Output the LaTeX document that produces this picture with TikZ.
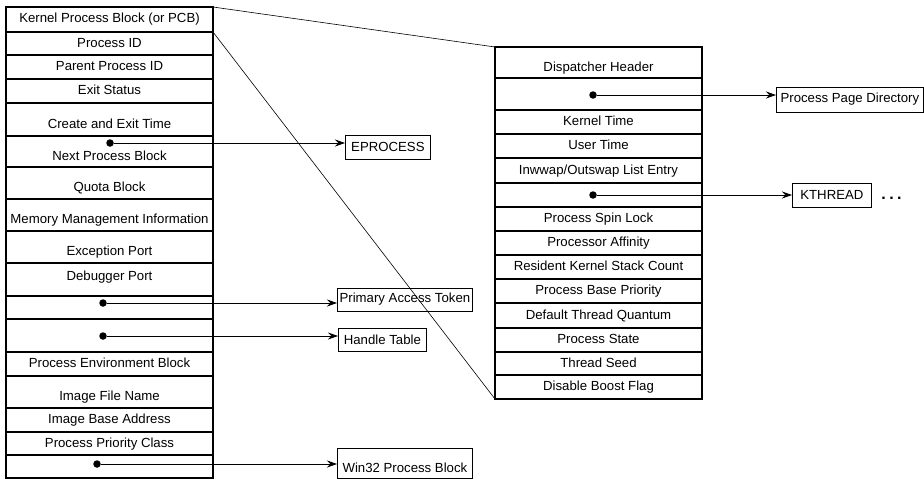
\documentclass[tikz,border=0pt]{standalone}
\usepackage{fontspec}
\setmainfont{Liberation Sans}
\usetikzlibrary{positioning,arrows.meta}

\begin{document}
\begin{tikzpicture}[x=1pt,y=-1pt,
  every node/.style={font=\fontsize{13.2}{15}\selectfont},
  field/.style={rectangle,draw,line width=1.2pt,minimum width=207pt,
               inner sep=0pt,outer sep=0pt,text height=10pt,text depth=3pt},
  lowtext/.style={text height=20pt},
  hightext/.style={text depth=9pt},
  ptr/.style={circle,fill,inner sep=0pt,minimum size=7.5pt},
  refbox/.style={rectangle,draw,line width=0.8pt,inner sep=0pt,
               minimum height=24pt,anchor=west},
  arr/.style ={-{Stealth[length=10pt,width=7pt]},line width=0.8pt},
  link/.style={line width=0.6pt},
]
\useasboundingbox (0,0) rectangle (924,479);

% EPROCESS fields
\node[field,minimum height=25pt,anchor=north west] (pcb) at (6,7) {Kernel Process Block (or PCB)};
\node[field,minimum height=23pt,below=0pt of pcb] (pid) {Process ID};
\node[field,minimum height=24pt,below=0pt of pid] (ppid) {Parent Process ID};
\node[field,minimum height=24pt,below=0pt of ppid] (exit) {Exit Status};
\node[field,minimum height=33pt,lowtext,below=0pt of exit] (times) {Create and Exit Time};
\node[field,minimum height=31pt,lowtext,below=0pt of times] (next) {Next Process Block};
\node[field,minimum height=32pt,lowtext,below=0pt of next] (quota) {Quota Block};
\node[field,minimum height=32pt,lowtext,below=0pt of quota] (mm) {Memory Management Information};
\node[field,minimum height=32pt,lowtext,below=0pt of mm] (exc) {Exception Port};
\node[field,minimum height=33pt,hightext,below=0pt of exc] (dbg) {Debugger Port};
\node[field,minimum height=23pt,below=0pt of dbg] (token) {};
\node[field,minimum height=33pt,below=0pt of token] (handles) {};
\node[field,minimum height=24pt,below=0pt of handles] (peb) {Process Environment Block};
\node[field,minimum height=32pt,lowtext,below=0pt of peb] (img) {Image File Name};
\node[field,minimum height=24pt,below=0pt of img] (base) {Image Base Address};
\node[field,minimum height=23pt,below=0pt of base] (prio) {Process Priority Class};
\node[field,minimum height=23pt,below=0pt of prio] (win32) {};

% KPROCESS fields
\node[field,minimum height=31pt,lowtext,anchor=north west] (disp) at (495,47) {Dispatcher Header};
\node[field,minimum height=32pt,below=0pt of disp] (pgdir) {};
\node[field,minimum height=24pt,below=0pt of pgdir] (ktime) {Kernel Time};
\node[field,minimum height=24pt,below=0pt of ktime] (utime) {User Time};
\node[field,minimum height=25pt,below=0pt of utime] (swap) {Inwwap/Outswap List Entry};
\node[field,minimum height=24pt,below=0pt of swap] (thr) {};
\node[field,minimum height=24pt,below=0pt of thr] (spin) {Process Spin Lock};
\node[field,minimum height=24pt,below=0pt of spin] (aff) {Processor Affinity};
\node[field,minimum height=24pt,below=0pt of aff] (stack) {Resident Kernel Stack Count};
\node[field,minimum height=24pt,below=0pt of stack] (bprio) {Process Base Priority};
\node[field,minimum height=25pt,below=0pt of bprio] (quant) {Default Thread Quantum};
\node[field,minimum height=24pt,below=0pt of quant] (state) {Process State};
\node[field,minimum height=23pt,below=0pt of state] (seed) {Thread Seed};
\node[field,minimum height=24pt,below=0pt of seed] (boost) {Disable Boost Flag};

% pointers
\node[ptr] (dnext) at (110,143) {};
\node[ptr] (dtoken) at (103,303) {};
\node[ptr] (dhandles) at (103,336) {};
\node[ptr] (dwin32) at (97,464) {};
\node[ptr] (dpgdir) at (593,95) {};
\node[ptr] (dthr) at (593,195) {};

% targets
\node[refbox,minimum width=85pt] (eproc) at (345,147) {EPROCESS};
\node[refbox,minimum width=135pt,minimum height=23pt] (pat) at (337,299.5) {Primary Access Token};
\node[refbox,minimum width=88pt,minimum height=23pt] (htab) at (338,339.5) {Handle Table};
\node[refbox,minimum width=135pt,minimum height=30pt,text height=22pt,text depth=3pt] (w32) at (337,463) {Win32 Process Block};
\node[refbox,minimum width=147pt,minimum height=25pt] (ppd) at (776,99.5) {Process Page Directory};
\node[refbox,minimum width=79pt] (kthread) at (792,195) {KTHREAD};
\node[right=6pt of kthread,yshift=-3pt,font=\fontsize{16}{16}\selectfont\bfseries] (more) {.\hspace{3.5pt}.\hspace{3.5pt}.};

\draw[arr] (dnext) -- (eproc.west |- dnext);
\draw[arr] (dtoken) -- (pat.west |- dtoken);
\draw[arr] (dhandles) -- (htab.west |- dhandles);
\draw[arr] (dwin32) -- (w32.west |- dwin32);
\draw[arr] (dpgdir) -- (ppd.west |- dpgdir);
\draw[arr] (dthr) -- (kthread.west |- dthr);

\draw[link] (pcb.north east) -- (disp.north west);
\draw[link] (pcb.south east) -- (boost.south west);
\end{tikzpicture}
\end{document}
